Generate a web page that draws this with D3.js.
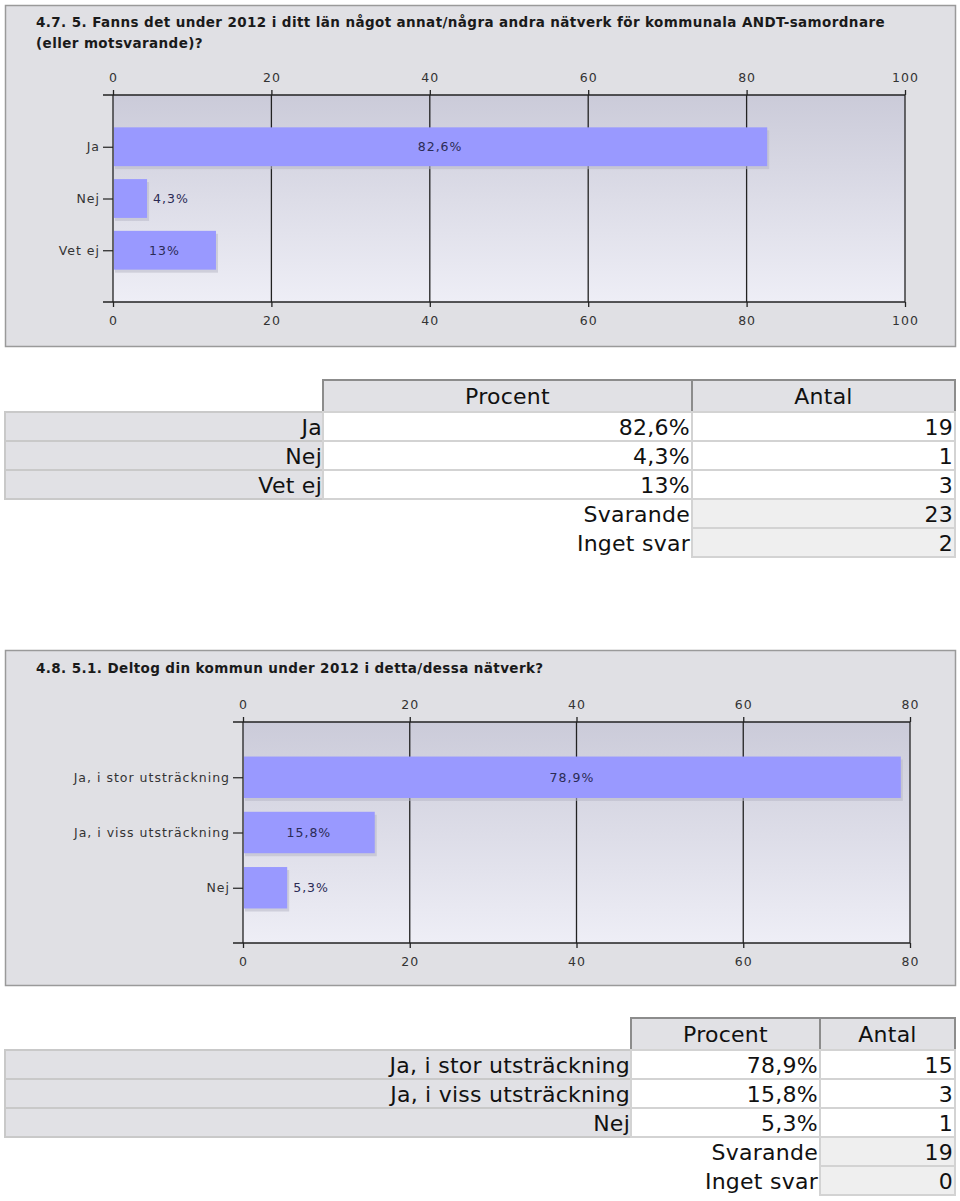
<!DOCTYPE html>
<html><head><meta charset="utf-8">
<script src="https://cdn.jsdelivr.net/npm/d3@7"></script>
<style>
html,body{margin:0;padding:0;background:#fff;}
svg{display:block;}
</style>
</head><body>
<svg id="root" width="960" height="1201"></svg>
<script>
// ---------- DATA ----------
const q1TitleLines = ["4.7. 5. Fanns det under 2012 i ditt län något annat/några andra nätverk för kommunala ANDT-samordnare", "(eller motsvarande)?"];
const q1Categories = ["Ja", "Nej", "Vet ej"];
const q1Percent = [82.6, 4.3, 13];
const q1Count = [19, 1, 3];
const q1Svarande = 23;
const q1IngetSvar = 2;
const q1Ticks = [0, 20, 40, 60, 80, 100];

const q2TitleLines = ["4.8. 5.1. Deltog din kommun under 2012 i detta/dessa nätverk?"];
const q2Categories = ["Ja, i stor utsträckning", "Ja, i viss utsträckning", "Nej"];
const q2Percent = [78.9, 15.8, 5.3];
const q2Count = [15, 3, 1];
const q2Svarande = 19;
const q2IngetSvar = 0;
const q2Ticks = [0, 20, 40, 60, 80];

const tableHeaders = ["Procent", "Antal"];
const summaryLabels = ["Svarande", "Inget svar"];

// ---------- DRAW ----------
const svg = d3.select("#root");
const defs = svg.append("defs");
const grad = defs.append("linearGradient").attr("id", "plotGrad")
  .attr("x1", 0).attr("y1", 0).attr("x2", 0).attr("y2", 1);
grad.append("stop").attr("offset", "0%").attr("stop-color", "#cbcbd9");
grad.append("stop").attr("offset", "100%").attr("stop-color", "#eeeef6");

const FONT = "DejaVu Sans, Verdana, sans-serif";
const fmtPct = v => String(v).replace(".", ",") + "%";

function styleSmall(sel) {
  sel.attr("font-family", FONT).attr("font-size", 12.5)
    .attr("letter-spacing", 1).attr("fill", "#333");
}

function drawChart(cfg) {
  const g = svg.append("g");
  g.append("rect").attr("x", cfg.panel[0]).attr("y", cfg.panel[1])
    .attr("width", cfg.panel[2]).attr("height", cfg.panel[3])
    .attr("fill", "#e0e0e4").attr("stroke", "#9a9a9a").attr("stroke-width", 1.5);

  cfg.title.forEach((t, i) => {
    g.append("text").attr("x", 36).attr("y", cfg.titleY + i * 21)
      .attr("font-family", FONT).attr("font-weight", "bold")
      .attr("font-size", 13.5).attr("letter-spacing", 0.4).attr("fill", "#1a1a1a")
      .text(t);
  });

  const x = d3.scaleLinear().domain([0, cfg.max]).range([cfg.x0, cfg.x1]);
  const y = d3.scalePoint().domain(cfg.categories).range([cfg.top, cfg.bottom]).padding(1);
  const step = y.step();
  const bh = step * 0.75;

  g.append("rect").attr("x", x(0)).attr("y", cfg.top)
    .attr("width", x(cfg.max) - x(0)).attr("height", cfg.bottom - cfg.top)
    .attr("fill", "url(#plotGrad)");

  g.selectAll("line.grid").data(cfg.ticks).enter().append("line")
    .attr("x1", d => x(d)).attr("x2", d => x(d))
    .attr("y1", cfg.top).attr("y2", cfg.bottom)
    .attr("stroke", "#222").attr("stroke-width", 1.3);

  const data = cfg.categories.map((c, i) => ({c, v: cfg.values[i]}));
  g.selectAll("rect.shadow").data(data).enter().append("rect")
    .attr("x", x(0) + 2).attr("y", d => y(d.c) - bh / 2 + 3)
    .attr("width", d => x(d.v) - x(0)).attr("height", bh)
    .attr("fill", "#b8b8c6").attr("opacity", 0.55);
  g.selectAll("rect.bar").data(data).enter().append("rect")
    .attr("x", x(0) + 1).attr("y", d => y(d.c) - bh / 2)
    .attr("width", d => x(d.v) - x(0) - 1).attr("height", bh)
    .attr("fill", "#9999ff");

  const inside = d => (x(d.v) - x(0) > 60);
  g.selectAll("text.val").data(data).enter().append("text")
    .attr("x", d => inside(d) ? (x(0) + x(d.v)) / 2 : x(d.v) + 6)
    .attr("y", d => y(d.c) + 4.5)
    .attr("text-anchor", d => inside(d) ? "middle" : "start")
    .call(styleSmall).attr("fill", "#2b2b55")
    .text(d => fmtPct(d.v));

  const top = g.append("g").attr("transform", `translate(0,${cfg.top})`)
    .call(d3.axisTop(x).tickValues(cfg.ticks).tickSize(5).tickSizeOuter(0).tickPadding(8));
  const bot = g.append("g").attr("transform", `translate(0,${cfg.bottom})`)
    .call(d3.axisBottom(x).tickValues(cfg.ticks).tickSize(5).tickSizeOuter(0).tickPadding(9));
  [top, bot].forEach(a => {
    a.select(".domain").remove();
    a.selectAll("line").attr("stroke", "#222").attr("stroke-width", 1.3);
    a.selectAll("text").call(styleSmall);
  });
  [cfg.top, cfg.bottom].forEach(yy => {
    g.append("line").attr("x1", x(0) - 10).attr("x2", x(cfg.max))
      .attr("y1", yy).attr("y2", yy).attr("stroke", "#222").attr("stroke-width", 1.6);
  });

  const left = g.append("g").attr("transform", `translate(${x(0)},0)`)
    .call(d3.axisLeft(y).tickSize(10).tickPadding(3).tickSizeOuter(0));
  left.select(".domain").remove();
  left.selectAll("line").attr("stroke", "#222").attr("stroke-width", 1.2);
  left.selectAll("text").call(styleSmall);
}

function drawTable(cfg) {
  const g = svg.append("g");
  const fs = 22;
  const ls = 0.25;
  const txt = (xx, yy, anchor, t) => g.append("text").attr("x", xx).attr("y", yy)
    .attr("text-anchor", anchor).attr("font-family", FONT).attr("font-size", fs)
    .attr("letter-spacing", ls).attr("fill", "#111").text(t);
  const [cL, cP, cA, cR] = cfg.cols;
  [[cP, cA, tableHeaders[0]], [cA, cR, tableHeaders[1]]].forEach(([a, b, t]) => {
    g.append("rect").attr("x", a).attr("y", cfg.headTop).attr("width", b - a)
      .attr("height", cfg.rowTop - cfg.headTop)
      .attr("fill", "#e1e1e5").attr("stroke", "#8c8c8c").attr("stroke-width", 2);
    txt((a + b) / 2, (cfg.headTop + cfg.rowTop) / 2 + 8, "middle", t);
  });
  const rh = cfg.rowH;
  cfg.categories.forEach((c, i) => {
    const yy = cfg.rowTop + i * rh;
    g.append("rect").attr("x", cL).attr("y", yy).attr("width", cP - cL).attr("height", rh)
      .attr("fill", "#e1e1e5").attr("stroke", "#c9c9c9").attr("stroke-width", 2);
    g.append("rect").attr("x", cP).attr("y", yy).attr("width", cA - cP).attr("height", rh)
      .attr("fill", "#fff").attr("stroke", "#d3d3d3").attr("stroke-width", 2);
    g.append("rect").attr("x", cA).attr("y", yy).attr("width", cR - cA).attr("height", rh)
      .attr("fill", "#fff").attr("stroke", "#d3d3d3").attr("stroke-width", 2);
    const ty = yy + rh / 2 + 8;
    txt(cP - 1, ty, "end", c);
    txt(cA - 2, ty, "end", fmtPct(cfg.percent[i]));
    txt(cR - 2, ty, "end", cfg.count[i]);
  });
  const sums = [cfg.svarande, cfg.inget];
  summaryLabels.forEach((lab, j) => {
    const yy = cfg.rowTop + (cfg.categories.length + j) * rh;
    g.append("rect").attr("x", cA).attr("y", yy).attr("width", cR - cA).attr("height", rh)
      .attr("fill", "#efefef").attr("stroke", "#d3d3d3").attr("stroke-width", 2);
    const ty = yy + rh / 2 + 8;
    txt(cA - 2, ty, "end", lab);
    txt(cR - 2, ty, "end", sums[j]);
  });
}

drawChart({panel: [5.5, 5.5, 950, 341], title: q1TitleLines, titleY: 27,
  categories: q1Categories, values: q1Percent, max: 100, ticks: q1Ticks,
  x0: 113, x1: 905, top: 95, bottom: 302});
drawTable({cols: [5, 323, 692, 955], headTop: 380, rowTop: 412, rowH: 29,
  categories: q1Categories, percent: q1Percent, count: q1Count,
  svarande: q1Svarande, inget: q1IngetSvar});

drawChart({panel: [5.5, 650.5, 950, 335], title: q2TitleLines, titleY: 673,
  categories: q2Categories, values: q2Percent, max: 80, ticks: q2Ticks,
  x0: 243, x1: 910, top: 722, bottom: 943});
drawTable({cols: [5, 631, 820, 955], headTop: 1018, rowTop: 1050, rowH: 29,
  categories: q2Categories, percent: q2Percent, count: q2Count,
  svarande: q2Svarande, inget: q2IngetSvar});
</script>
</body></html>
